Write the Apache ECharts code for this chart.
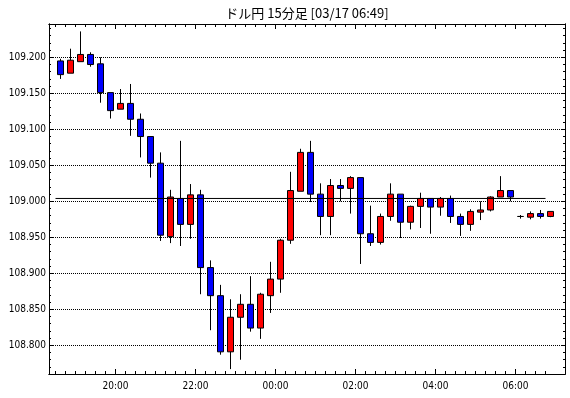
<!DOCTYPE html>
<html>
<head>
<meta charset="utf-8">
<script src="https://cdn.jsdelivr.net/npm/echarts@6/dist/echarts.min.js"></script>
<style>
html,body{margin:0;padding:0;background:#fff;}
#chart{width:570px;height:398px;}
</style>
</head>
<body>
<div id="chart"></div>
<script>
// 15-minute bar start times
const times = ['18:30','18:45','19:00','19:15','19:30','19:45','20:00','20:15','20:30','20:45',
  '21:00','21:15','21:30','21:45','22:00','22:15','22:30','22:45','23:00','23:15',
  '23:30','23:45','00:00','00:15','00:30','00:45','01:00','01:15','01:30','01:45',
  '02:00','02:15','02:30','02:45','03:00','03:15','03:30','03:45','04:00','04:15',
  '04:30','04:45','05:00','05:15','05:30','05:45','06:00','06:15','06:30','06:45'];
const opens = [109.195,109.178,109.194,109.204,109.191,109.151,109.128,109.136,109.114,109.090,
  109.053,108.951,109.004,108.968,109.009,108.908,108.869,108.791,108.839,108.857,
  108.824,108.869,108.892,108.946,109.014,109.068,109.010,108.979,109.022,109.018,
  109.033,108.955,108.943,108.979,109.010,108.971,108.993,109.004,108.992,109.004,
  108.979,108.968,108.985,108.988,109.006,109.015,108.979,108.978,108.983,108.979];
const closes = [109.176,109.196,109.204,109.190,109.151,109.126,109.136,109.114,109.090,109.053,
  108.953,109.006,108.968,109.009,108.908,108.869,108.791,108.839,108.857,108.824,
  108.871,108.892,108.946,109.015,109.068,109.010,108.979,109.022,109.018,109.033,
  108.955,108.943,108.979,109.010,108.971,108.993,109.004,108.992,109.004,108.979,
  108.968,108.986,108.988,109.006,109.015,109.006,108.979,108.983,108.979,108.986];
const lows = [109.170,109.178,109.194,109.187,109.137,109.115,109.128,109.091,109.061,109.033,
  108.945,108.942,108.938,108.948,108.871,108.821,108.787,108.767,108.780,108.819,
  108.809,108.845,108.873,108.941,109.014,108.999,108.953,108.953,109.000,108.983,
  108.913,108.938,108.940,108.973,108.949,108.961,108.963,108.955,108.980,108.970,
  108.952,108.959,108.974,108.986,109.006,109.000,108.976,108.975,108.976,108.978];
const highs = [109.198,109.212,109.236,109.207,109.200,109.151,109.156,109.163,109.122,109.090,
  109.068,109.016,109.084,109.024,109.016,108.918,108.884,108.864,108.871,108.896,
  108.873,108.916,108.948,109.041,109.073,109.084,109.025,109.031,109.031,109.035,
  109.033,108.994,108.983,109.025,109.010,108.994,109.012,109.004,109.006,109.008,
  108.983,108.989,109.000,109.007,109.035,109.015,108.981,108.986,108.988,108.986];

// reference (current price) line
const refLevel = 109.004;
const refFrom = '18:30';
const refTo = '06:45';

// axis labels
const yLabels = [108.80, 108.85, 108.90, 108.95, 109.00, 109.05, 109.10, 109.15, 109.20];
const xLabels = ['20:00','22:00','00:00','02:00','04:00','06:00'];
const titleText = 'ドル円 15分足 [03/17 06:49]';

// minutes since 18:00
function toMin(t) {
  const p = t.split(':');
  return ((+p[0]) * 60 + (+p[1]) - 18 * 60 + 1440) % 1440;
}
function fmtMin(v) {
  const m = Math.round(v);
  const h = (18 + Math.floor(m / 60)) % 24;
  const mm = m % 60;
  return (h < 10 ? '0' : '') + h + ':' + (mm < 10 ? '0' : '') + mm;
}

const candleData = times.map((t, i) => [toMin(t) + 7.5, opens[i], closes[i], lows[i], highs[i]]);
const xMajor = xLabels.map(toMin);
const xMinor = times.map(toMin);
const yMinor = [];
for (let k = 10877; k <= 10924; k++) yMinor.push(k / 100);

const X_MIN = 20.25, X_MAX = 794.25;
const Y_MIN = 108.7602, Y_MAX = 109.2463;

const black = '#000';
const labelFont = '"DejaVu Sans Condensed", "Liberation Sans", sans-serif';

function xAxisDef(pos, major, withLabels) {
  return {
    type: 'value', position: pos, min: X_MIN, max: X_MAX, gridIndex: 0,
    axisLine: {show: true, onZero: false, lineStyle: {color: black, width: 1}},
    axisTick: {show: true, inside: true, length: major ? 5 : 3,
      customValues: major ? xMajor : xMinor, lineStyle: {color: black, width: 1}},
    axisLabel: {show: withLabels, customValues: xMajor, formatter: fmtMin, margin: 7,
      color: black, fontSize: 10, fontFamily: labelFont},
    splitLine: {show: false}
  };
}
function yAxisDef(pos, major, withLabels, withGrid) {
  return {
    type: 'value', position: pos, min: Y_MIN, max: Y_MAX, gridIndex: 0, scale: true,
    axisLine: {show: true, onZero: false, lineStyle: {color: black, width: 1}},
    axisTick: {show: true, inside: true, length: major ? 4 : 2,
      customValues: major ? yLabels : yMinor, lineStyle: {color: black, width: 1}},
    axisLabel: {show: withLabels, customValues: yLabels, formatter: v => v.toFixed(3), margin: 3,
      color: black, fontSize: 10, fontFamily: labelFont},
    splitLine: {show: withGrid, lineStyle: {color: black, width: 1, type: [1, 1]}}
  };
}

const chart = echarts.init(document.getElementById('chart'), null, {renderer: 'canvas'});
chart.setOption({
  animation: false,
  backgroundColor: '#fff',
  grid: {left: 49, right: 5, top: 24, bottom: 24, containLabel: false},
  graphic: [{
    type: 'text', x: 307, y: 13,
    style: {text: titleText, textAlign: 'center', textVerticalAlign: 'middle',
      font: '13px "Noto Sans CJK JP", sans-serif', fill: black}
  }],
  xAxis: [
    xAxisDef('bottom', false, true),
    xAxisDef('bottom', true, false),
    xAxisDef('top', false, false),
    xAxisDef('top', true, false)
  ],
  yAxis: [
    yAxisDef('left', false, true, false),
    yAxisDef('left', true, false, true),
    yAxisDef('right', false, false, false),
    yAxisDef('right', true, false, false)
  ],
  series: [
    {
      type: 'candlestick',
      xAxisIndex: 0, yAxisIndex: 0,
      data: candleData,
      encode: {x: 0, y: [1, 2, 3, 4]},
      barWidth: 6,
      itemStyle: {color: '#ff0000', color0: '#0000ff', borderColor: black, borderColor0: black,
        borderColorDoji: black, borderWidth: 1}
    },
    {
      type: 'line',
      xAxisIndex: 0, yAxisIndex: 0,
      data: [[toMin(refFrom), refLevel], [toMin(refTo), refLevel]],
      symbol: 'none', z: 5,
      lineStyle: {color: black, width: 1}
    }
  ]
});
</script>
</body>
</html>
